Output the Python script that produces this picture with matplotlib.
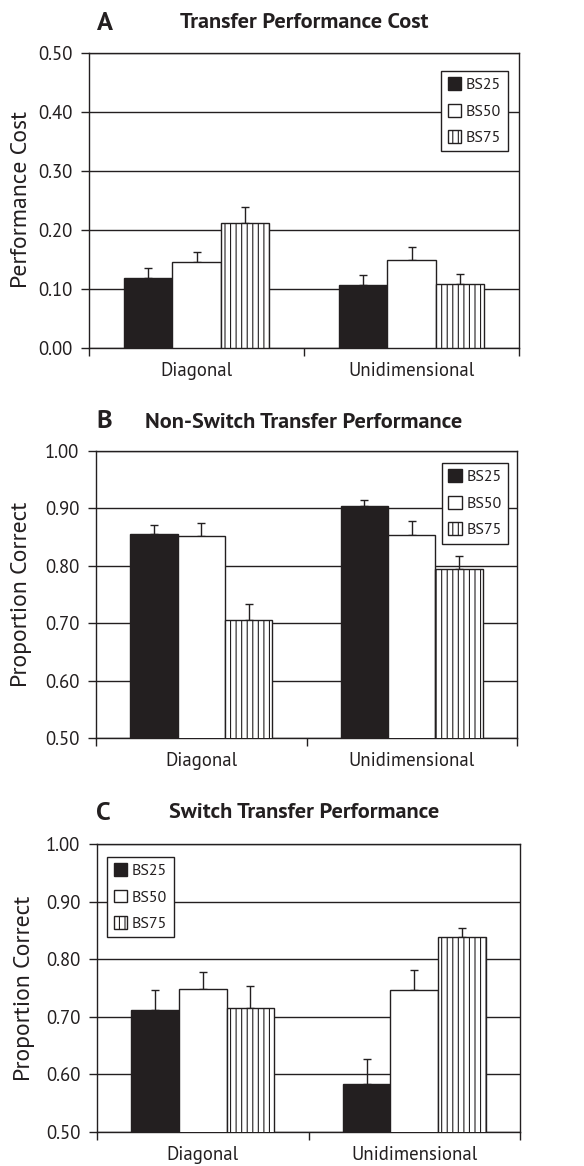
import matplotlib
matplotlib.use("Agg")
import matplotlib.pyplot as plt
from matplotlib import font_manager as fm
import numpy as np


def pick_family(prefs):
    avail = {}
    for f in fm.fontManager.ttflist:
        w = f.weight if isinstance(f.weight, int) else fm.weight_dict.get(f.weight, 400)
        if f.style == 'normal' and f.stretch in ('normal', 500):
            avail.setdefault(f.name, set()).add(w)
    for p in prefs:
        ws = avail.get(p, set())
        if 400 in ws and 700 in ws:
            return p
    return 'DejaVu Sans'


MAIN = pick_family(['Source Sans Pro', 'Source Sans 3', 'PT Sans', 'Open Sans'])
plt.rcParams['font.family'] = [MAIN, 'DejaVu Sans']
plt.rcParams['hatch.linewidth'] = 0.8

categories = ["Diagonal", "Unidimensional"]
series = ["BS25", "BS50", "BS75"]

# Panel A: Transfer Performance Cost
a_bs25 = [0.119, 0.107]
a_bs50 = [0.145, 0.150]
a_bs75 = [0.212, 0.109]
a_err25 = [0.017, 0.017]
a_err50 = [0.017, 0.021]
a_err75 = [0.027, 0.016]

# Panel B: Non-Switch Transfer Performance
b_bs25 = [0.856, 0.904]
b_bs50 = [0.852, 0.854]
b_bs75 = [0.705, 0.795]
b_err25 = [0.015, 0.010]
b_err50 = [0.022, 0.024]
b_err75 = [0.028, 0.022]

# Panel C: Switch Transfer Performance
c_bs25 = [0.711, 0.584]
c_bs50 = [0.749, 0.747]
c_bs75 = [0.716, 0.838]
c_err25 = [0.036, 0.042]
c_err50 = [0.029, 0.034]
c_err75 = [0.038, 0.017]

a_ticks = [0.0, 0.1, 0.2, 0.3, 0.4, 0.5]
bc_ticks = [0.5, 0.6, 0.7, 0.8, 0.9, 1.0]

INK = '#231f20'
W, H = 584, 1166
fig = plt.figure(figsize=(W / 100, H / 100), dpi=100)


def make_axes(left, right, top, bottom):
    return fig.add_axes([left / W, 1 - bottom / H, (right - left) / W, (bottom - top) / H])


def panel(ax, vals, errs, ylim, yticks, legend_loc, legend_anchor):
    x = np.arange(len(categories))
    w = 0.225
    styles = [dict(color=INK, hatch=None), dict(color='white', hatch=None), dict(color='white', hatch='|||')]
    handles = []
    for i, (v, e, st) in enumerate(zip(vals, errs, styles)):
        pos = x + (i - 1) * w
        b = ax.bar(pos, v, width=w, color=st['color'], edgecolor=INK,
                   linewidth=1.0, hatch=st['hatch'], zorder=3, label=series[i])
        handles.append(b)
        ax.errorbar(pos, v, yerr=[np.zeros(len(e)), e], fmt='none', ecolor=INK, elinewidth=1.0,
                    capsize=3, capthick=1.0, zorder=2.5)
    ax.set_xlim(-0.5, 1.5)
    ax.set_ylim(*ylim)
    ax.set_yticks(yticks)
    ax.set_yticklabels([f"{t:.2f}" for t in yticks])
    ax.set_xticks(x)
    ax.set_xticklabels(categories)
    ax.set_xticks([-0.5, 0.5, 1.5], minor=True)
    ax.tick_params(axis='x', which='major', length=0, pad=10, labelsize=13.5, colors=INK)
    ax.tick_params(axis='x', which='minor', length=6, width=1.0, direction='out', color=INK)
    ax.tick_params(axis='y', length=6, width=1.0, direction='out', pad=6, labelsize=13.5, colors=INK)
    ax.yaxis.grid(True, color=INK, linewidth=1.0)
    ax.set_axisbelow(True)
    for s in ax.spines.values():
        s.set_color(INK)
        s.set_linewidth(1.0)
    leg = ax.legend(handles=handles, loc=legend_loc, bbox_to_anchor=legend_anchor, borderaxespad=0,
                    fancybox=False, framealpha=1, edgecolor=INK, fontsize=11.5,
                    handlelength=0.85, handleheight=0.85, handletextpad=0.3,
                    labelspacing=0.72, borderpad=0.4)
    leg.get_frame().set_linewidth(1.0)
    for t in leg.get_texts():
        t.set_color(INK)
    leg.set_zorder(5)


axA = make_axes(89, 519, 53, 348)
panel(axA, [a_bs25, a_bs50, a_bs75], [a_err25, a_err50, a_err75], (0.0, 0.5), a_ticks,
      'upper right', (0.974, 0.939))
axB = make_axes(96, 517, 451, 738)
panel(axB, [b_bs25, b_bs50, b_bs75], [b_err25, b_err50, b_err75], (0.5, 1.0), bc_ticks,
      'upper right', (0.979, 0.958))
axC = make_axes(97, 520, 844, 1132)
panel(axC, [c_bs25, c_bs50, c_bs75], [c_err25, c_err50, c_err75], (0.5, 1.0), bc_ticks,
      'upper left', (0.024, 0.955))


def ftext(x, y, s, **kw):
    fig.text(x / W, 1 - y / H, s, color=INK, **kw)


ftext(105, 23, "A", fontsize=19, fontweight='bold', ha='center', va='center')
ftext(304, 23, "Transfer Performance Cost", fontsize=16, fontweight='bold', ha='center', va='center')
ftext(104, 422, "B", fontsize=19, fontweight='bold', ha='center', va='center')
ftext(304, 422, "Non-Switch Transfer Performance", fontsize=16, fontweight='bold', ha='center', va='center')
ftext(103, 813, "C", fontsize=19, fontweight='bold', ha='center', va='center')
ftext(304, 813, "Switch Transfer Performance", fontsize=16, fontweight='bold', ha='center', va='center')

ftext(22, 200, "Performance Cost", fontsize=17, rotation=90, ha='center', va='center')
ftext(22, 594, "Proportion Correct", fontsize=17, rotation=90, ha='center', va='center')
ftext(25, 988, "Proportion Correct", fontsize=17, rotation=90, ha='center', va='center')

fig.savefig("out.png", dpi=100)
